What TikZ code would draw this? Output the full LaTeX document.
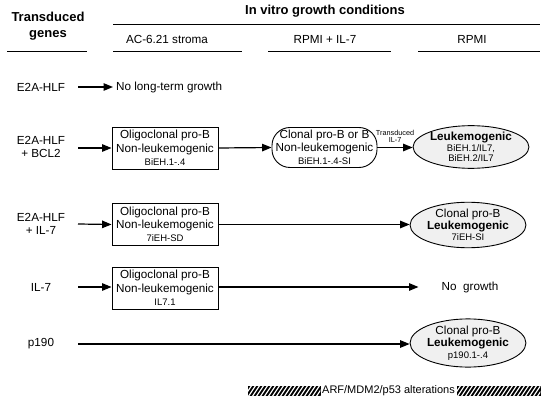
\documentclass[tikz,border=0pt]{standalone}
\usepackage{fontspec}
\setmainfont{Liberation Sans}
\usetikzlibrary{arrows.meta,shapes.geometric}
\newcommand\smtxt{\fontsize{9.5}{13.3}\selectfont}
\newcommand\regtxt{\fontsize{11.7}{13.3}\selectfont}
\begin{document}
\begin{tikzpicture}[x=1pt,y=-1pt,
  hdr/.style={font=\fontsize{13}{16}\selectfont\bfseries,align=center,inner sep=0pt},
  col/.style={font=\regtxt,inner sep=0pt},
  rulebar/.style={line width=1.8pt},
  conn/.style={line width=1.2pt,-{Triangle[length=9.5pt,width=7.5pt]}},
  gene/.style={font=\regtxt,align=center,inner sep=0pt},
  obox/.style={draw,line width=0.9pt,minimum width=106pt,minimum height=42pt,inner sep=0pt,align=center,font=\regtxt},
  rbox/.style={draw,line width=0.9pt,rounded corners=18pt,minimum width=105pt,minimum height=40pt,inner sep=0pt,align=center,font=\regtxt},
  oval/.style={draw,ellipse,line width=0.9pt,fill=black!6,minimum width=98pt,minimum height=40pt,inner sep=0pt,align=center,font=\regtxt},
  plain/.style={font=\regtxt,inner sep=3pt},
  hatchbox/.style={fill=black,draw=black,line width=0.6pt}
]
\useasboundingbox (0,0) rectangle (551,414);
% headers
\node[hdr] (th) at (48,26) {Transduced\\genes};
\node[hdr] (ivh) at (325,11.5) {In vitro growth conditions};
\draw[rulebar] (7,51.5) -- (87,51.5);
\draw[rulebar] (113,24.5) -- (540,24.5);
\node[col] (c1) at (167,39.5) {AC-6.21 stroma};
\node[col] (c2) at (325,39.5) {RPMI + IL-7};
\node[col] (c3) at (472,39.5) {RPMI};
\draw[rulebar] (113,51.5) -- (242,51.5);
\draw[rulebar] (268,51.5) -- (391,51.5);
\draw[rulebar] (418,51.5) -- (540,51.5);

% row 1
\node[gene] (g1) at (41,87) {E2A-HLF};
\coordinate (s1) at (78,87);
\node[plain,anchor=west] (nl) at (113,87) {No long-term growth};
\draw[conn] (s1) -- (nl.west);

% row 2
\node[gene] (g2) at (41,147) {E2A-HLF\\+ BCL2};
\coordinate (s2) at (78,148);
\node[obox] (b2) at (165,148) {Oligoclonal pro-B\\Non-leukemogenic\\\smtxt BiEH.1-.4};
\node[rbox] (r2) at (324.5,147.5) {Clonal pro-B or B\\Non-leukemogenic\\\smtxt BiEH.1-.4-SI};
\node[oval,minimum width=102pt,minimum height=42pt] (e2) at (471,147) {\bfseries Leukemogenic\\[-2.5pt]\smtxt BiEH.1/IL7,\\[-2.5pt]\smtxt BiEH.2/IL7};
\draw[conn] (s2) -- (b2.west);
\draw[conn] (b2.east) -- (r2.west);
\draw[conn] (r2.east) -- node[above=4pt,align=center,font=\fontsize{7.3}{7.5}\selectfont,inner sep=0pt] {Transduced\\IL-7} (e2.west |- r2.east);

% row 3
\node[gene] (g3) at (41,224) {E2A-HLF\\+ IL-7};
\coordinate (s3) at (78,224);
\node[obox] (b3) at (165,224.5) {Oligoclonal pro-B\\Non-leukemogenic\\\smtxt 7iEH-SD};
\node[oval] (e3) at (468,225) {Clonal pro-B\\[-1.5pt]\bfseries Leukemogenic\\[-1.5pt]\smtxt\mdseries 7iEH-SI};
\draw[conn] (s3) -- (b3.west);
\draw[conn] (b3.east) -- (e3.west |- b3.east);

% row 4
\node[gene] (g4) at (41,287) {IL-7};
\coordinate (s4) at (78,287);
\node[obox] (b4) at (165,288) {Oligoclonal pro-B\\Non-leukemogenic\\\smtxt IL7.1};
\node[plain] (ng) at (470,287) {No\ \ growth};
\draw[conn] (s4) -- (b4.west |- s4);
\draw[conn,shorten >=20pt] (b4.east |- s4) -- (ng.west);

% row 5
\node[gene] (g5) at (41,344) {p190};
\coordinate (s5) at (78,344);
\node[oval] (e5) at (468,343) {Clonal pro-B\\[-1.5pt]\bfseries Leukemogenic\\[-1.5pt]\smtxt\mdseries p190.1-.4};
\draw[conn] (s5) -- (e5.west |- s5);

% legend
\node[font=\fontsize{11}{13}\selectfont,inner sep=0pt] (lg) at (388.5,391) {ARF/MDM2/p53 alterations};
\node[hatchbox,minimum width=72pt,minimum height=8.5pt,inner sep=0pt] (hl) at (284,391) {};
\node[hatchbox,minimum width=83pt,minimum height=8.5pt,inner sep=0pt] (hr) at (498.5,391) {};
\begin{scope}
  \clip (hl.south west) rectangle (hl.north east);
  \foreach \i in {0,4,...,84} \draw[white,line width=1.2pt] (244+\i,397) -- (252+\i,385);
\end{scope}
\begin{scope}
  \clip (hr.south west) rectangle (hr.north east);
  \foreach \i in {0,4,...,96} \draw[white,line width=1.2pt] (453+\i,397) -- (461+\i,385);
\end{scope}
\end{tikzpicture}
\end{document}
